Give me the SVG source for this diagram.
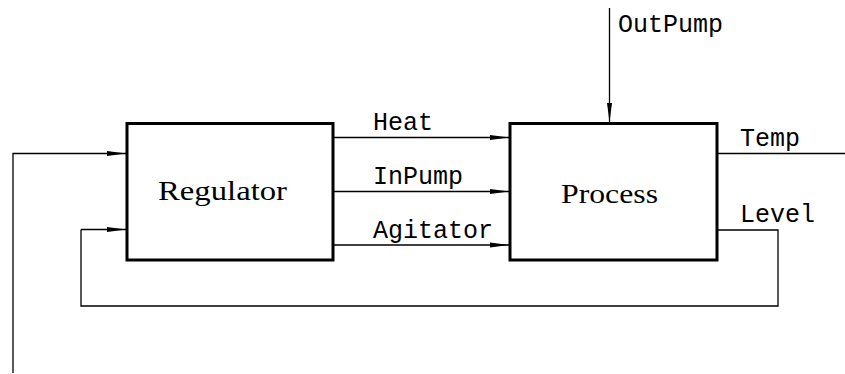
<svg xmlns="http://www.w3.org/2000/svg" width="845" height="374" viewBox="0 0 845 374">
<style>
.box{fill:#fff;stroke:#000;stroke-width:3}
.c{fill:none;stroke:#000;stroke-width:1.3}
.ca{fill:none;stroke:#000;stroke-width:1.3;marker-end:url(#ah)}
.tt{font-family:"Liberation Mono","DejaVu Sans Mono",monospace;font-size:25px;fill:#000}
.rm{font-family:"Liberation Serif","DejaVu Serif",serif;font-size:27px;fill:#000}
</style>
<defs>
<marker id="ah" markerUnits="userSpaceOnUse" markerWidth="20" markerHeight="8" refX="19" refY="3" orient="auto">
<path d="M0,0.5 L19,3 L0,5.5 z" fill="#000"/>
</marker>
</defs>
<rect width="845" height="374" fill="#fff"/>
<g id="connectors">
<path class="ca" d="M13,373 V153.5 H126"/>
<path class="c" d="M717,230 H778 V306 H81 V229.5"/>
<path class="ca" d="M81,229.5 H126"/>
<path class="ca" d="M334,137.5 H509"/>
<path class="ca" d="M334,191.5 H509"/>
<path class="ca" d="M334,245 H509"/>
<path class="ca" d="M609.5,8 V122"/>
<path class="c" d="M717,153.5 H845"/>
<text class="tt" x="373" y="130">Heat</text>
<text class="tt" x="373" y="184">InPump</text>
<text class="tt" x="373" y="238">Agitator</text>
<text class="tt" x="618" y="32">OutPump</text>
<text class="tt" x="740" y="146">Temp</text>
<text class="tt" x="740" y="222">Level</text>
</g>
<g id="regulator">
<rect class="box" x="127" y="123.5" width="206" height="136.5"/>
<text class="rm" x="158" y="200" textLength="129" lengthAdjust="spacingAndGlyphs">Regulator</text>
</g>
<g id="process">
<rect class="box" x="510" y="123.5" width="207" height="136.5"/>
<text class="rm" x="561" y="202.5" textLength="97" lengthAdjust="spacingAndGlyphs">Process</text>
</g>
</svg>
